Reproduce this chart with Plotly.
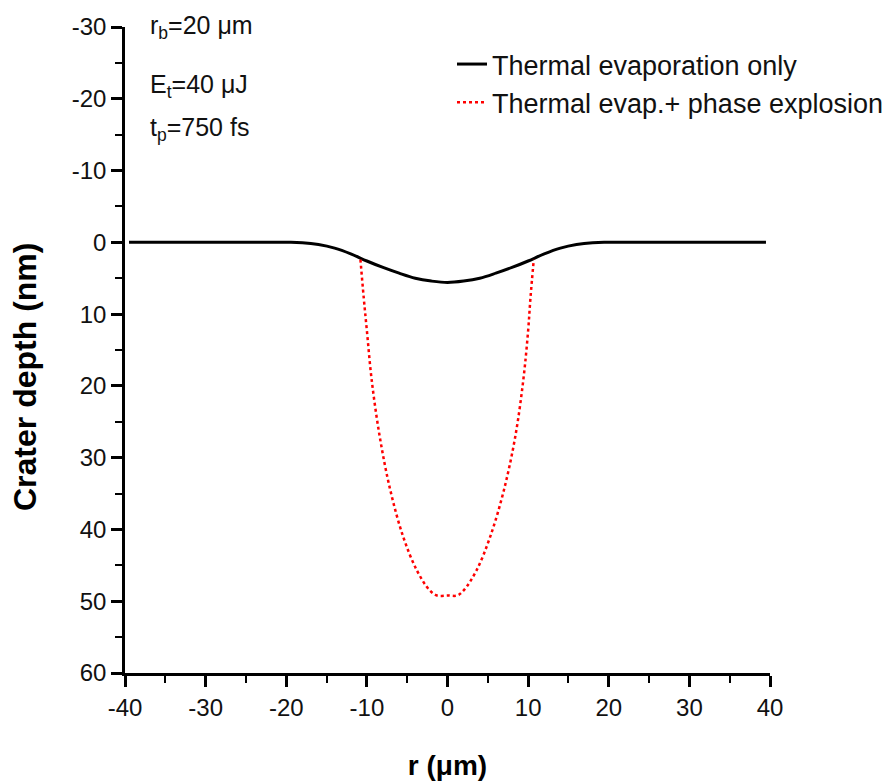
import plotly.graph_objects as go

# Thermal evaporation only (r in um, depth in nm)
r_thermal = [-39.5, -30, -20, -18, -16, -14, -12, -10, -8, -6, -4, -2, 0,
             2, 4, 6, 8, 10, 12, 14, 16, 18, 20, 30, 39.5]
d_thermal = [0, 0, 0, 0.05, 0.3, 0.8, 1.6, 2.6, 3.5, 4.3, 5.0, 5.4, 5.6,
             5.4, 5.0, 4.3, 3.5, 2.6, 1.6, 0.8, 0.3, 0.05, 0, 0, 0]

# Thermal evaporation + phase explosion
r_explosion = [-10.8, -10.4, -10.0, -9.4, -8.4, -7.1, -5.5, -3.8, -2.2, -1.3, 0,
               1.2, 2.0, 3.6, 5.3, 7.0, 8.4, 9.4, 10.0, 10.3, 10.7]
d_explosion = [2.4, 7.6, 12.3, 19.2, 27.1, 34.5, 41.0, 45.7, 48.5, 49.2, 49.2,
               49.2, 48.5, 45.7, 41.0, 34.5, 27.1, 19.2, 12.3, 7.6, 2.4]

x_ticks = [-40, -30, -20, -10, 0, 10, 20, 30, 40]
y_ticks = [-30, -20, -10, 0, 10, 20, 30, 40, 50, 60]

FONT = "Liberation Sans, Arial, sans-serif"

fig = go.Figure()
fig.add_trace(go.Scatter(x=r_thermal, y=d_thermal, mode="lines",
                         name="Thermal evaporation only",
                         line=dict(color="black", width=3, shape="spline")))
fig.add_trace(go.Scatter(x=r_explosion, y=d_explosion, mode="lines",
                         name="Thermal evap.+ phase explosion",
                         line=dict(color="red", width=2.5, dash="dot", shape="spline")))

axis_common = dict(showline=True, linecolor="black", linewidth=2.5,
                   ticks="outside", ticklen=11, tickwidth=2.5, tickcolor="black",
                   showgrid=False, zeroline=False, mirror=False,
                   tickfont=dict(family=FONT, size=24, color="#111"))

fig.update_xaxes(range=[-40, 40], tickvals=x_ticks, ticktext=[str(v) for v in x_ticks],
                 minor=dict(ticks="outside", ticklen=7, tickwidth=2, tickcolor="black", dtick=5, tick0=0),
                 title=dict(text="<b>r (μm)</b>", font=dict(family=FONT, size=28, color="black"), standoff=36),
                 **axis_common)
fig.update_yaxes(range=[60, -30], tickvals=y_ticks, ticktext=[str(v) for v in y_ticks],
                 minor=dict(ticks="outside", ticklen=7, tickwidth=2, tickcolor="black", dtick=5, tick0=0),
                 **axis_common)

fig.add_annotation(text="<b>Crater depth (nm)</b>", textangle=-90, xref="paper", yref="paper",
                   x=(25 - 125) / 645, y=(673 - 377) / 646, xanchor="center", yanchor="middle",
                   showarrow=False, font=dict(family=FONT, size=32, color="black"))

labels = ["r<sub>b</sub>=20 μm", "E<sub>t</sub>=40 μJ", "t<sub>p</sub>=750 fs"]
label_y = [27, 86, 129]
for t, yy in zip(labels, label_y):
    fig.add_annotation(text=t, xref="paper", yref="paper", x=(148 - 125) / 645,
                       y=(673 - yy) / 646, xanchor="left", yanchor="middle", showarrow=False,
                       font=dict(family=FONT, size=25, color="#111"))

fig.update_layout(
    width=892, height=784,
    margin=dict(l=125, r=122, t=27, b=111, autoexpand=False),
    paper_bgcolor="white", plot_bgcolor="white",
    font=dict(family=FONT, color="black"),
    legend=dict(x=(452 - 125) / 645, y=(673 - 40) / 646, xanchor="left", yanchor="top",
                bgcolor="rgba(0,0,0,0)", font=dict(family=FONT, size=27, color="#111"),
                tracegroupgap=0, itemwidth=30),
    showlegend=True,
)

fig.write_html("out.html")
